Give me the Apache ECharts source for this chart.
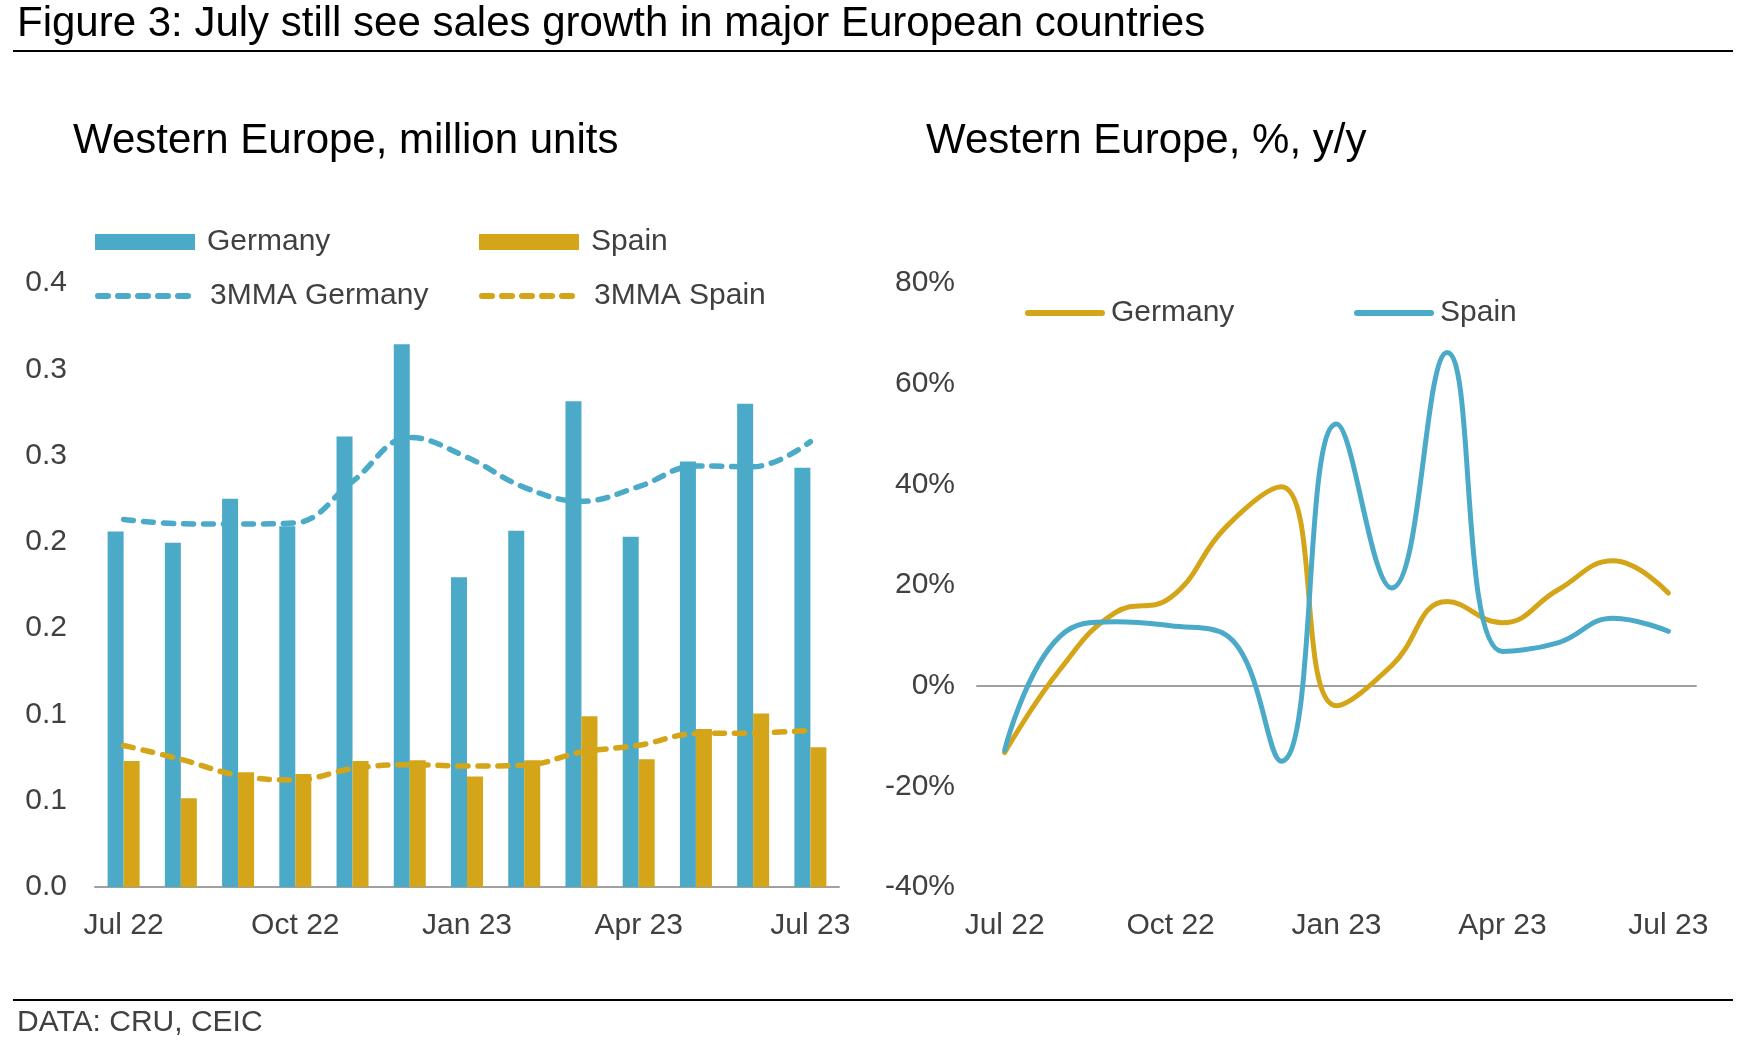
<!doctype html>
<html>
<head>
<meta charset="UTF-8">
<title>Figure 3: July still see sales growth in major European countries</title>
<script src="https://cdn.jsdelivr.net/npm/echarts/dist/echarts.min.js"></script>
<style>
    html, body { margin: 0; padding: 0; background: #fff; }
    #main { width: 1739px; height: 1063px; }
</style>
</head>
<body>
<div id="main"></div>
<script>
// data
var months = ['Jul 22', 'Aug 22', 'Sep 22', 'Oct 22', 'Nov 22', 'Dec 22', 'Jan 23',
              'Feb 23', 'Mar 23', 'Apr 23', 'May 23', 'Jun 23', 'Jul 23'];

// left panel, million units
var germanyUnits = [0.206, 0.1995, 0.225, 0.209, 0.261, 0.3145, 0.1795, 0.2065, 0.2815, 0.203, 0.2465, 0.280, 0.243];
var spainUnits   = [0.073, 0.0515, 0.0665, 0.0655, 0.073, 0.0735, 0.064, 0.0735, 0.099, 0.074, 0.0915, 0.1005, 0.081];
var germany3mma  = [0.213, 0.2105, 0.2103, 0.211, 0.235, 0.2605, 0.249, 0.2316, 0.2235, 0.232, 0.244, 0.2435, 0.258];
var spain3mma    = [0.082, 0.074, 0.0647, 0.062, 0.0686, 0.0709, 0.0701, 0.0705, 0.0782, 0.0821, 0.0889, 0.0892, 0.0908];
var leftTickLabels = ['0.0', '0.1', '0.1', '0.2', '0.2', '0.3', '0.3', '0.4'];

// right panel, % y/y
var germanyYoY = [-13.3, 3.2, 14.5, 17.5, 31.5, 39.5, -4, 4, 16.7, 12.5, 19, 24.8, 18.4];
var spainYoY   = [-12.8, 9.8, 12.7, 11.9, 10.1, -15, 52, 19.4, 66.2, 6.8, 8.5, 13.4, 10.8];
var rightTickLabels = ['-40%', '-20%', '0%', '20%', '40%', '60%', '80%'];

var teal = '#4BAAC8';
var gold = '#D4A519';
var axisGrey = '#A0A0A0';
var textGrey = '#404040';
var fontName = '"Liberation Sans", Arial, sans-serif';

var labelStyle = { color: textGrey, fontSize: 30, fontFamily: fontName };
var dash = [10, 10];

function legendAt(name, left, top, extra) {
    var lg = {
        data: [name],
        left: left,
        top: top,
        padding: 0,
        itemWidth: 100,
        itemHeight: 16,
        selectedMode: false,
        textStyle: { color: textGrey, fontSize: 30, fontFamily: fontName, padding: [0, 0, 0, 7] },
        formatter: function (n) { return n.replace(' y/y', ''); }
    };
    for (var k in extra) lg[k] = extra[k];
    return lg;
}

var myChart = echarts.init(document.getElementById('main'));

var option = {
    backgroundColor: '#fff',
    animation: false,
    graphic: [
        { type: 'text', x: 17, y: 24, style: { text: 'Figure 3: July still see sales growth in major European countries',
            fill: '#000', fontSize: 42, fontFamily: fontName, verticalAlign: 'middle' } },
        { type: 'line', shape: { x1: 13, y1: 51, x2: 1733, y2: 51 }, style: { stroke: '#000', lineWidth: 2 } },
        { type: 'text', x: 73, y: 141, style: { text: 'Western Europe, million units',
            fill: '#000', fontSize: 42, fontFamily: fontName, verticalAlign: 'middle' } },
        { type: 'text', x: 926, y: 141, style: { text: 'Western Europe, %, y/y',
            fill: '#000', fontSize: 42, fontFamily: fontName, verticalAlign: 'middle' } },
        { type: 'line', shape: { x1: 13, y1: 1000, x2: 1733, y2: 1000 }, style: { stroke: '#000', lineWidth: 2 } },
        { type: 'text', x: 17, y: 1023, style: { text: 'DATA: CRU, CEIC',
            fill: textGrey, fontSize: 30, fontFamily: fontName, verticalAlign: 'middle' } }
    ],
    legend: [
        legendAt('Germany', 95, 227, { icon: 'rect' }),
        legendAt('Spain', 479, 227, { icon: 'rect' }),
        legendAt('3MMA Germany', 95, 281, { itemStyle: { opacity: 0 }, lineStyle: { width: 6, type: dash, cap: 'round' } }),
        legendAt('3MMA Spain', 479, 281, { itemStyle: { opacity: 0 }, lineStyle: { width: 6, type: dash, cap: 'round' } }),
        legendAt('Germany y/y', 1025, 298, { itemWidth: 74, itemStyle: { opacity: 0 },
            lineStyle: { width: 6, cap: 'round' },
            textStyle: { color: textGrey, fontSize: 30, fontFamily: fontName, padding: [0, 0, 0, 4] } }),
        legendAt('Spain y/y', 1354, 298, { itemWidth: 74, itemStyle: { opacity: 0 },
            lineStyle: { width: 6, cap: 'round' },
            textStyle: { color: textGrey, fontSize: 30, fontFamily: fontName, padding: [0, 0, 0, 4] } })
    ],
    grid: [
        { left: 95, width: 744, top: 283, bottom: 176, outerBoundsMode: 'none' },
        { left: 977, width: 719, top: 283, bottom: 176, outerBoundsMode: 'none' }
    ],
    xAxis: [
        {
            gridIndex: 0, type: 'category', data: months, position: 'bottom',
            axisLine: { lineStyle: { color: axisGrey, width: 2 } },
            axisTick: { interval: 2, length: 9, lineStyle: { color: axisGrey, width: 2 } },
            axisLabel: Object.assign({ interval: 2, margin: 24 }, labelStyle),
            splitLine: { show: false }
        },
        {
            gridIndex: 1, type: 'category', data: months, position: 'bottom',
            axisLine: { show: false, onZero: false },
            axisTick: { show: false },
            axisLabel: Object.assign({ interval: 2, margin: 24 }, labelStyle),
            splitLine: { show: false }
        },
        {
            gridIndex: 1, type: 'category', data: months, position: 'bottom',
            axisLine: { onZero: true, lineStyle: { color: axisGrey, width: 2 } },
            axisTick: { interval: 2, length: 9, lineStyle: { color: axisGrey, width: 2 } },
            axisLabel: { show: false },
            splitLine: { show: false }
        }
    ],
    yAxis: [
        {
            gridIndex: 0, type: 'value', min: 0, max: 0.35, interval: 0.05,
            axisLine: { show: false }, axisTick: { show: false }, splitLine: { show: false },
            axisLabel: Object.assign({ margin: 28, formatter: function (v, i) { return leftTickLabels[i]; } }, labelStyle)
        },
        {
            gridIndex: 1, type: 'value', min: -40, max: 80, interval: 20,
            axisLine: { show: false }, axisTick: { show: false }, splitLine: { show: false },
            axisLabel: Object.assign({ margin: 22, formatter: function (v, i) { return rightTickLabels[i]; } }, labelStyle)
        }
    ],
    series: [
        { name: 'Germany', type: 'bar', xAxisIndex: 0, yAxisIndex: 0, data: germanyUnits,
          barWidth: 16, barGap: '0%', itemStyle: { color: teal } },
        { name: 'Spain', type: 'bar', xAxisIndex: 0, yAxisIndex: 0, data: spainUnits,
          barWidth: 16, barGap: '0%', itemStyle: { color: gold } },
        { name: '3MMA Germany', type: 'line', xAxisIndex: 0, yAxisIndex: 0, data: germany3mma,
          smooth: 0.4, symbol: 'none', z: 5, itemStyle: { color: teal },
          lineStyle: { color: teal, width: 5.5, type: dash, cap: 'round' } },
        { name: '3MMA Spain', type: 'line', xAxisIndex: 0, yAxisIndex: 0, data: spain3mma,
          smooth: 0.4, symbol: 'none', z: 5, itemStyle: { color: gold },
          lineStyle: { color: gold, width: 5.5, type: dash, cap: 'round' } },
        { name: 'Germany y/y', type: 'line', xAxisIndex: 1, yAxisIndex: 1, data: germanyYoY,
          smooth: 0.45, symbol: 'none', itemStyle: { color: gold },
          lineStyle: { color: gold, width: 5, cap: 'round' } },
        { name: 'Spain y/y', type: 'line', xAxisIndex: 1, yAxisIndex: 1, data: spainYoY,
          smooth: 0.45, symbol: 'none', itemStyle: { color: teal },
          lineStyle: { color: teal, width: 5, cap: 'round' } }
    ]
};

myChart.setOption(option);
</script>
</body>
</html>
